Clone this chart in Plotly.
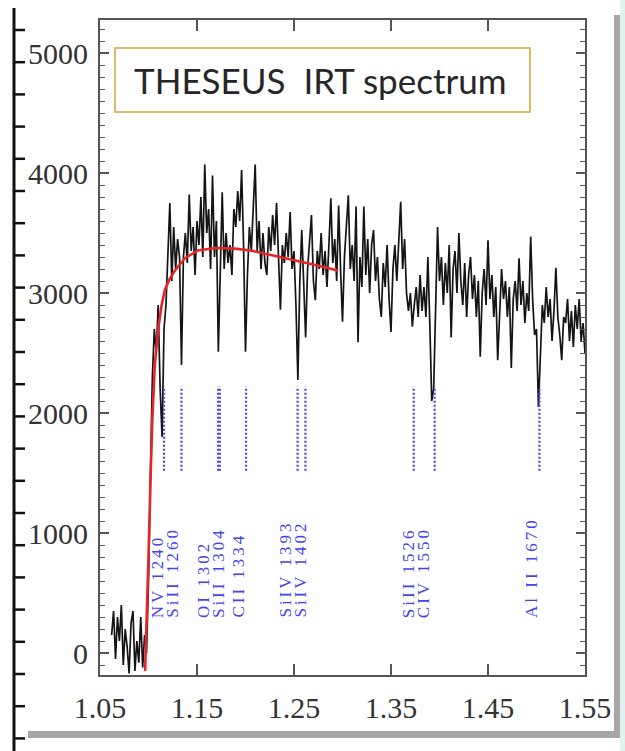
import plotly.graph_objects as go

# ---------------- data ----------------
# observed spectrum: uniform wavelength grid (micron) + flux values
WL_START = 1.062
WL_STEP = 0.002
flux = [
    150, 350, -50, 300, 100, 400, -100, 200, 50, -170,
    250, 350, -150, 100, -80, 300, -120, 150, 0, 600,
    1500, 2300, 2700, 2500, 2900, 2200, 1800, 2700, 2900, 3300,
    3750, 3100, 3550, 3200, 3450, 3300, 2400, 3300, 3500, 3250,
    3820, 3350, 3550, 3150, 3600, 3400, 3800, 3300, 4070, 3500,
    3700, 3200, 3980, 3300, 3600, 2510, 3300, 3840, 3200, 3500,
    3250, 3400, 3150, 3700, 3550, 3850, 3600, 4025, 3400, 2510,
    3150, 3550, 3350, 3700, 4070, 3350, 3600, 3200, 3500, 3250,
    3150, 3550, 3350, 3650, 3400, 3750, 3300, 2860, 3400, 3250,
    3500, 3300, 3675, 3200, 3350, 2900, 2275, 3100, 3525, 3000,
    2630, 3200, 3400, 3650, 3100, 2940, 3350, 3200, 3500, 3150,
    3350, 3050, 3400, 3790, 3250, 3450, 3100, 3730, 3200, 2760,
    3300, 3550, 3815, 3200, 3400, 3100, 3720, 2590, 3300, 3050,
    3720, 3150, 3450, 3000, 3400, 3525, 3100, 3300, 2950, 2800,
    3250, 3050, 3400, 2950, 2675, 3200, 3400, 3100, 3450, 3760,
    3200, 3450, 3000, 2850, 3000, 2720, 2900, 3050, 2800, 3150,
    2850, 3050, 2800, 3300, 2750, 2100, 2200, 2900, 3550, 3100,
    3300, 2900, 3250, 3000, 3400, 2630, 3200, 3350, 3000, 3500,
    3100, 2900, 3250, 2800, 3150, 3300, 2950, 3150, 2800, 3100,
    2470, 3000, 3200, 2900, 3440, 2950, 3150, 2800, 3050, 2440,
    2900, 3200, 2950, 3100, 2800, 3050, 2375, 2950, 3100, 2850,
    3290, 2900, 3100, 2750, 3000, 2850, 3470, 2950, 2650, 2700,
    2050, 2500, 2900, 2750, 3050, 2800, 2950, 2600, 2850, 3210,
    2800, 2650, 2440, 2800, 2750, 2950, 2600, 2850, 2550, 2900,
    2700, 2950, 2600, 2750, 2500,
]
wavelength = [round(WL_START + i * WL_STEP, 4) for i in range(len(flux))]

# model (red) curve
model_wl = [1.0965, 1.0985, 1.1005, 1.1025, 1.1040, 1.1065, 1.1100, 1.1135,
            1.1170, 1.1220, 1.1275, 1.1375, 1.1510, 1.1690, 1.1890, 1.2050,
            1.2220, 1.2430, 1.2630, 1.2840, 1.2955]
model_flux = [-150, 350, 950, 1550, 1950, 2400, 2700, 2900, 3030, 3120, 3190,
              3290, 3355, 3375, 3370, 3355, 3325, 3290, 3250, 3210, 3185]

# absorption line identifications
REDSHIFT = 8.0
line_names = ["NV 1240", "SiII 1260", "OI 1302", "SiII 1304", "CII 1334",
              "SiIV 1393", "SiIV 1402", "SiII 1526", "CIV 1550", "Al II 1670"]
line_rest = [1240, 1260, 1302, 1304, 1334, 1393, 1402, 1526, 1550, 1670]
line_group = [0, 0, 1, 1, 2, 3, 3, 4, 4, 5]
marker_span = [1520, 2220]
label_base = 275

x_ticks = [1.05, 1.15, 1.25, 1.35, 1.45, 1.55]
y_ticks = [0, 1000, 2000, 3000, 4000, 5000]
title_text = "THESEUS\u00a0\u00a0IRT spectrum"

# ---------------- figure ----------------
W, H = 625, 751
ML, MR, MT, MB = 100, 40, 20, 76
PW, PH = W - ML - MR, H - MT - MB


def px(xp):
    return (xp - ML) / PW


def py(yp):
    return (H - MB - yp) / PH


line_obs = [r * (1 + REDSHIFT) / 1e4 for r in line_rest]

fig = go.Figure()

fig.add_trace(go.Scatter(x=wavelength, y=flux, mode="lines",
                         line=dict(color="#141414", width=1.7),
                         hoverinfo="skip", showlegend=False))

bx, by = [], []
for w in line_obs:
    bx += [w, w, None]
    by += [marker_span[0], marker_span[1], None]
fig.add_trace(go.Scatter(x=bx, y=by, mode="lines",
                         line=dict(color="#4848f0", width=2.2, dash="2px,2px"),
                         hoverinfo="skip", showlegend=False))

fig.add_trace(go.Scatter(x=model_wl, y=model_flux, mode="lines",
                         line=dict(color="#e4262a", width=2.6),
                         hoverinfo="skip", showlegend=False))

# labels
groups = {}
for i, g in enumerate(line_group):
    groups.setdefault(g, []).append(i)
annotations = []
for g, idx in groups.items():
    centre = sum(line_obs[i] for i in idx) / len(idx)
    n = len(idx)
    for k, i in enumerate(idx):
        annotations.append(dict(
            x=centre, y=label_base, xref="x", yref="y",
            text='<span style="letter-spacing:3px">' + line_names[i] + '</span>',
            textangle=-90, showarrow=False, xanchor="center", yanchor="bottom",
            xshift=-8 + (k - (n - 1) / 2) * 15,
            font=dict(family="Liberation Serif", size=17, color="#4444ee")))

annotations.append(dict(
    x=px(320), y=py(80), xref="paper", yref="paper", text=title_text,
    showarrow=False, xanchor="center", yanchor="middle",
    font=dict(family="Lato", size=35, color="#262626")))

shapes = [
    dict(type="rect", xref="paper", yref="paper",
         x0=px(115), x1=px(530), y0=py(112), y1=py(48),
         line=dict(color="#dcbd6a", width=2), fillcolor="white", layer="below"),
    # outer frame decorations
    dict(type="line", xref="paper", yref="paper",
         x0=px(14), x1=px(14), y0=py(8), y1=py(751),
         line=dict(color="#111111", width=3)),
    dict(type="rect", xref="paper", yref="paper",
         x0=px(28), x1=px(620), y0=py(738), y1=py(731),
         line=dict(width=0), fillcolor="#a6a6a6"),
    dict(type="rect", xref="paper", yref="paper",
         x0=px(614), x1=px(620), y0=py(738), y1=py(15),
         line=dict(width=0), fillcolor="#a6a6a6"),
    dict(type="rect", xref="paper", yref="paper",
         x0=px(620), x1=px(625), y0=py(751), y1=py(0),
         line=dict(width=0), fillcolor="#e2f3ef"),
]
k = 0
while 30 + 32.2 * k < 745:
    yy = 30 + 32.2 * k
    shapes.append(dict(type="line", xref="paper", yref="paper",
                       x0=px(14), x1=px(25), y0=py(yy), y1=py(yy),
                       line=dict(color="#111111", width=2.5)))
    k += 1

fig.update_layout(
    width=W, height=H,
    margin=dict(l=ML, r=MR, t=MT, b=MB),
    paper_bgcolor="white", plot_bgcolor="white",
    annotations=annotations, shapes=shapes,
    xaxis=dict(range=[1.05, 1.55], tickmode="array", tickvals=x_ticks,
               ticktext=[f"{t:.2f}" for t in x_ticks],
               ticks="inside", ticklen=11, tickwidth=1.5, tickcolor="#555555",
               mirror="ticks", showline=True, linecolor="#555555", linewidth=2,
               showgrid=False, zeroline=False, ticklabelstandoff=5,
               tickfont=dict(family="Liberation Serif", size=30, color="#333333")),
    yaxis=dict(range=[-183, 5275], tickmode="linear", tick0=0, dtick=1000,
               ticks="inside", ticklen=9, tickwidth=1.5, tickcolor="#555555",
               minor=dict(dtick=100, ticklen=5, ticks="inside", tickwidth=1,
                          tickcolor="#555555"),
               mirror="ticks", showline=True, linecolor="#555555", linewidth=2,
               showgrid=False, zeroline=False, ticklabelstandoff=4,
               tickfont=dict(family="Liberation Serif", size=30, color="#333333")),
)

fig.write_html("out.html")
